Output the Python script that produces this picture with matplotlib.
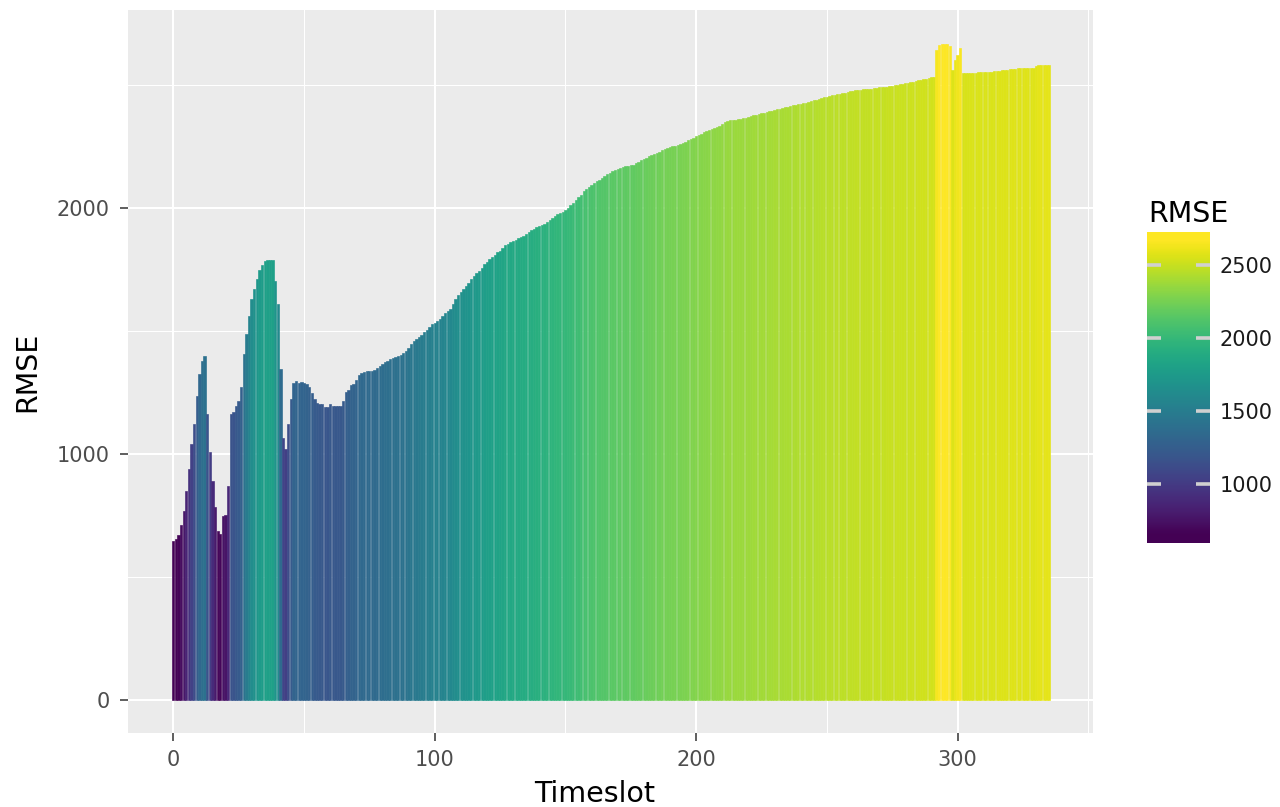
import numpy as np
import matplotlib
matplotlib.use('Agg')
import matplotlib.pyplot as plt
from matplotlib.colors import Normalize

# RMSE por timeslot
rmse = [
    649, 655, 670, 713, 771, 852, 940, 1041, 1122, 1237,
    1325, 1377, 1400, 1163, 1007, 892, 784, 686, 676, 750,
    752, 872, 1163, 1170, 1197, 1217, 1271, 1406, 1487, 1562,
    1629, 1670, 1711, 1748, 1767, 1785, 1789, 1789, 1789, 1704,
    1609, 1345, 1064, 1021, 1122, 1224, 1291, 1298, 1291, 1294,
    1290, 1285, 1271, 1248, 1224, 1210, 1205, 1203, 1192, 1190,
    1203, 1197, 1197, 1197, 1197, 1215, 1251, 1262, 1280, 1287,
    1300, 1322, 1330, 1336, 1339, 1339, 1340, 1342, 1350, 1359,
    1365, 1375, 1380, 1385, 1389, 1394, 1400, 1405, 1412, 1420,
    1433, 1447, 1458, 1467, 1477, 1486, 1496, 1503, 1515, 1528,
    1535, 1542, 1548, 1562, 1575, 1580, 1592, 1612, 1630, 1645,
    1660, 1672, 1683, 1697, 1710, 1724, 1736, 1744, 1757, 1772,
    1783, 1792, 1802, 1810, 1820, 1825, 1838, 1850, 1856, 1862,
    1866, 1872, 1877, 1882, 1888, 1893, 1902, 1910, 1916, 1922,
    1926, 1931, 1937, 1942, 1952, 1958, 1966, 1975, 1980, 1986,
    1992, 2002, 2012, 2021, 2032, 2044, 2055, 2068, 2077, 2086,
    2094, 2102, 2110, 2116, 2124, 2130, 2137, 2143, 2149, 2154,
    2158, 2164, 2167, 2170, 2172, 2175, 2177, 2182, 2188, 2194,
    2200, 2204, 2210, 2215, 2220, 2225, 2230, 2236, 2242, 2246,
    2249, 2251, 2254, 2257, 2260, 2265, 2270, 2276, 2282, 2286,
    2291, 2297, 2302, 2308, 2312, 2318, 2323, 2327, 2331, 2335,
    2342, 2350, 2353, 2356, 2359, 2360, 2362, 2364, 2366, 2368,
    2371, 2374, 2377, 2380, 2382, 2385, 2388, 2390, 2393, 2396,
    2399, 2401, 2403, 2406, 2409, 2412, 2414, 2417, 2420, 2423,
    2425, 2427, 2429, 2432, 2435, 2438, 2440, 2443, 2447, 2450,
    2452, 2455, 2459, 2461, 2463, 2465, 2467, 2469, 2471, 2474,
    2477, 2478, 2480, 2481, 2482, 2483, 2485, 2486, 2487, 2489,
    2491, 2492, 2493, 2494, 2496, 2498, 2500, 2502, 2503, 2505,
    2507, 2508, 2511, 2514, 2516, 2519, 2521, 2523, 2524, 2527,
    2531, 2534, 2643, 2663, 2667, 2667, 2667, 2659, 2561, 2602,
    2622, 2649, 2548, 2548, 2548, 2549, 2550, 2551, 2552, 2552,
    2553, 2553, 2554, 2555, 2556, 2558, 2559, 2560, 2562, 2563,
    2564, 2565, 2567, 2568, 2569, 2569, 2569, 2570, 2571, 2571,
    2576, 2582, 2582, 2582, 2582, 2582,
]
timeslot = list(range(len(rmse)))

x_ticks = [0, 100, 200, 300]
x_minor = [50, 150, 250, 350]
y_ticks = [0, 1000, 2000]
y_minor = [500, 1500, 2500]
cbar_ticks = [1000, 1500, 2000, 2500]

fig = plt.figure(figsize=(12.8, 8.07), dpi=100)
ax = fig.add_axes([0.0998, 0.0917, 0.7541, 0.8959])
ax.set_facecolor('#EBEBEB')

norm = Normalize(vmin=min(rmse), vmax=max(rmse))
cores = plt.cm.viridis(norm(rmse))
# borda da mesma cor para fechar as frestas entre as barras
ax.bar(timeslot, rmse, width=0.9, color=cores, edgecolor=cores, linewidth=0.45, zorder=3)

# grade no estilo ggplot
ax.set_xticks(x_ticks)
ax.set_xticks(x_minor, minor=True)
ax.set_yticks(y_ticks)
ax.set_yticks(y_minor, minor=True)
ax.grid(which='major', color='white', linewidth=1.5, zorder=0)
ax.grid(which='minor', color='white', linewidth=0.75, zorder=0)
ax.set_axisbelow(True)
ax.set_xlim(-17.4, 351.8)
ax.set_ylim(-133, 2805)

for s in ax.spines.values():
    s.set_visible(False)
ax.tick_params(which='major', length=5.8, width=1.1, color='#333333',
               labelsize=15, labelcolor='#4D4D4D')
ax.tick_params(axis='y', pad=7)
ax.tick_params(axis='x', pad=6.5)
ax.tick_params(which='minor', length=0)

fig.text(595 / 1280, 1 - 802 / 807, 'Timeslot', fontsize=20.5, ha='center', va='baseline')
fig.text(27 / 1280, 1 - 372 / 807, 'RMSE', fontsize=20.5, rotation=90, ha='center', va='center')

# barra de cores desenhada a mao
cb_lo, cb_hi = 594, 2728
cax = fig.add_axes([1147 / 1280, 1 - 543.3 / 807, 63 / 1280, 311.6 / 807])
grad = np.linspace(cb_lo, cb_hi, 300).reshape(-1, 1)
cax.imshow(grad, cmap='viridis', norm=norm, origin='lower', aspect='auto',
           extent=[0, 1, cb_lo, cb_hi])
for v in cbar_ticks:
    cax.plot([0, 0.22], [v, v], color='#D0D0D0', linewidth=2.6, solid_capstyle='butt')
    cax.plot([0.78, 1], [v, v], color='#D0D0D0', linewidth=2.6, solid_capstyle='butt')
cax.set_xlim(0, 1)
cax.set_ylim(cb_lo, cb_hi)
cax.set_xticks([])
cax.yaxis.tick_right()
cax.set_yticks(cbar_ticks)
cax.tick_params(axis='y', length=0, pad=7, labelsize=15, labelcolor='#1A1A1A')
for s in cax.spines.values():
    s.set_visible(False)
fig.text(1148 / 1280, 1 - 222 / 807, 'RMSE', fontsize=20.5, ha='left', va='baseline')

fig.savefig('out.png', dpi=100)
